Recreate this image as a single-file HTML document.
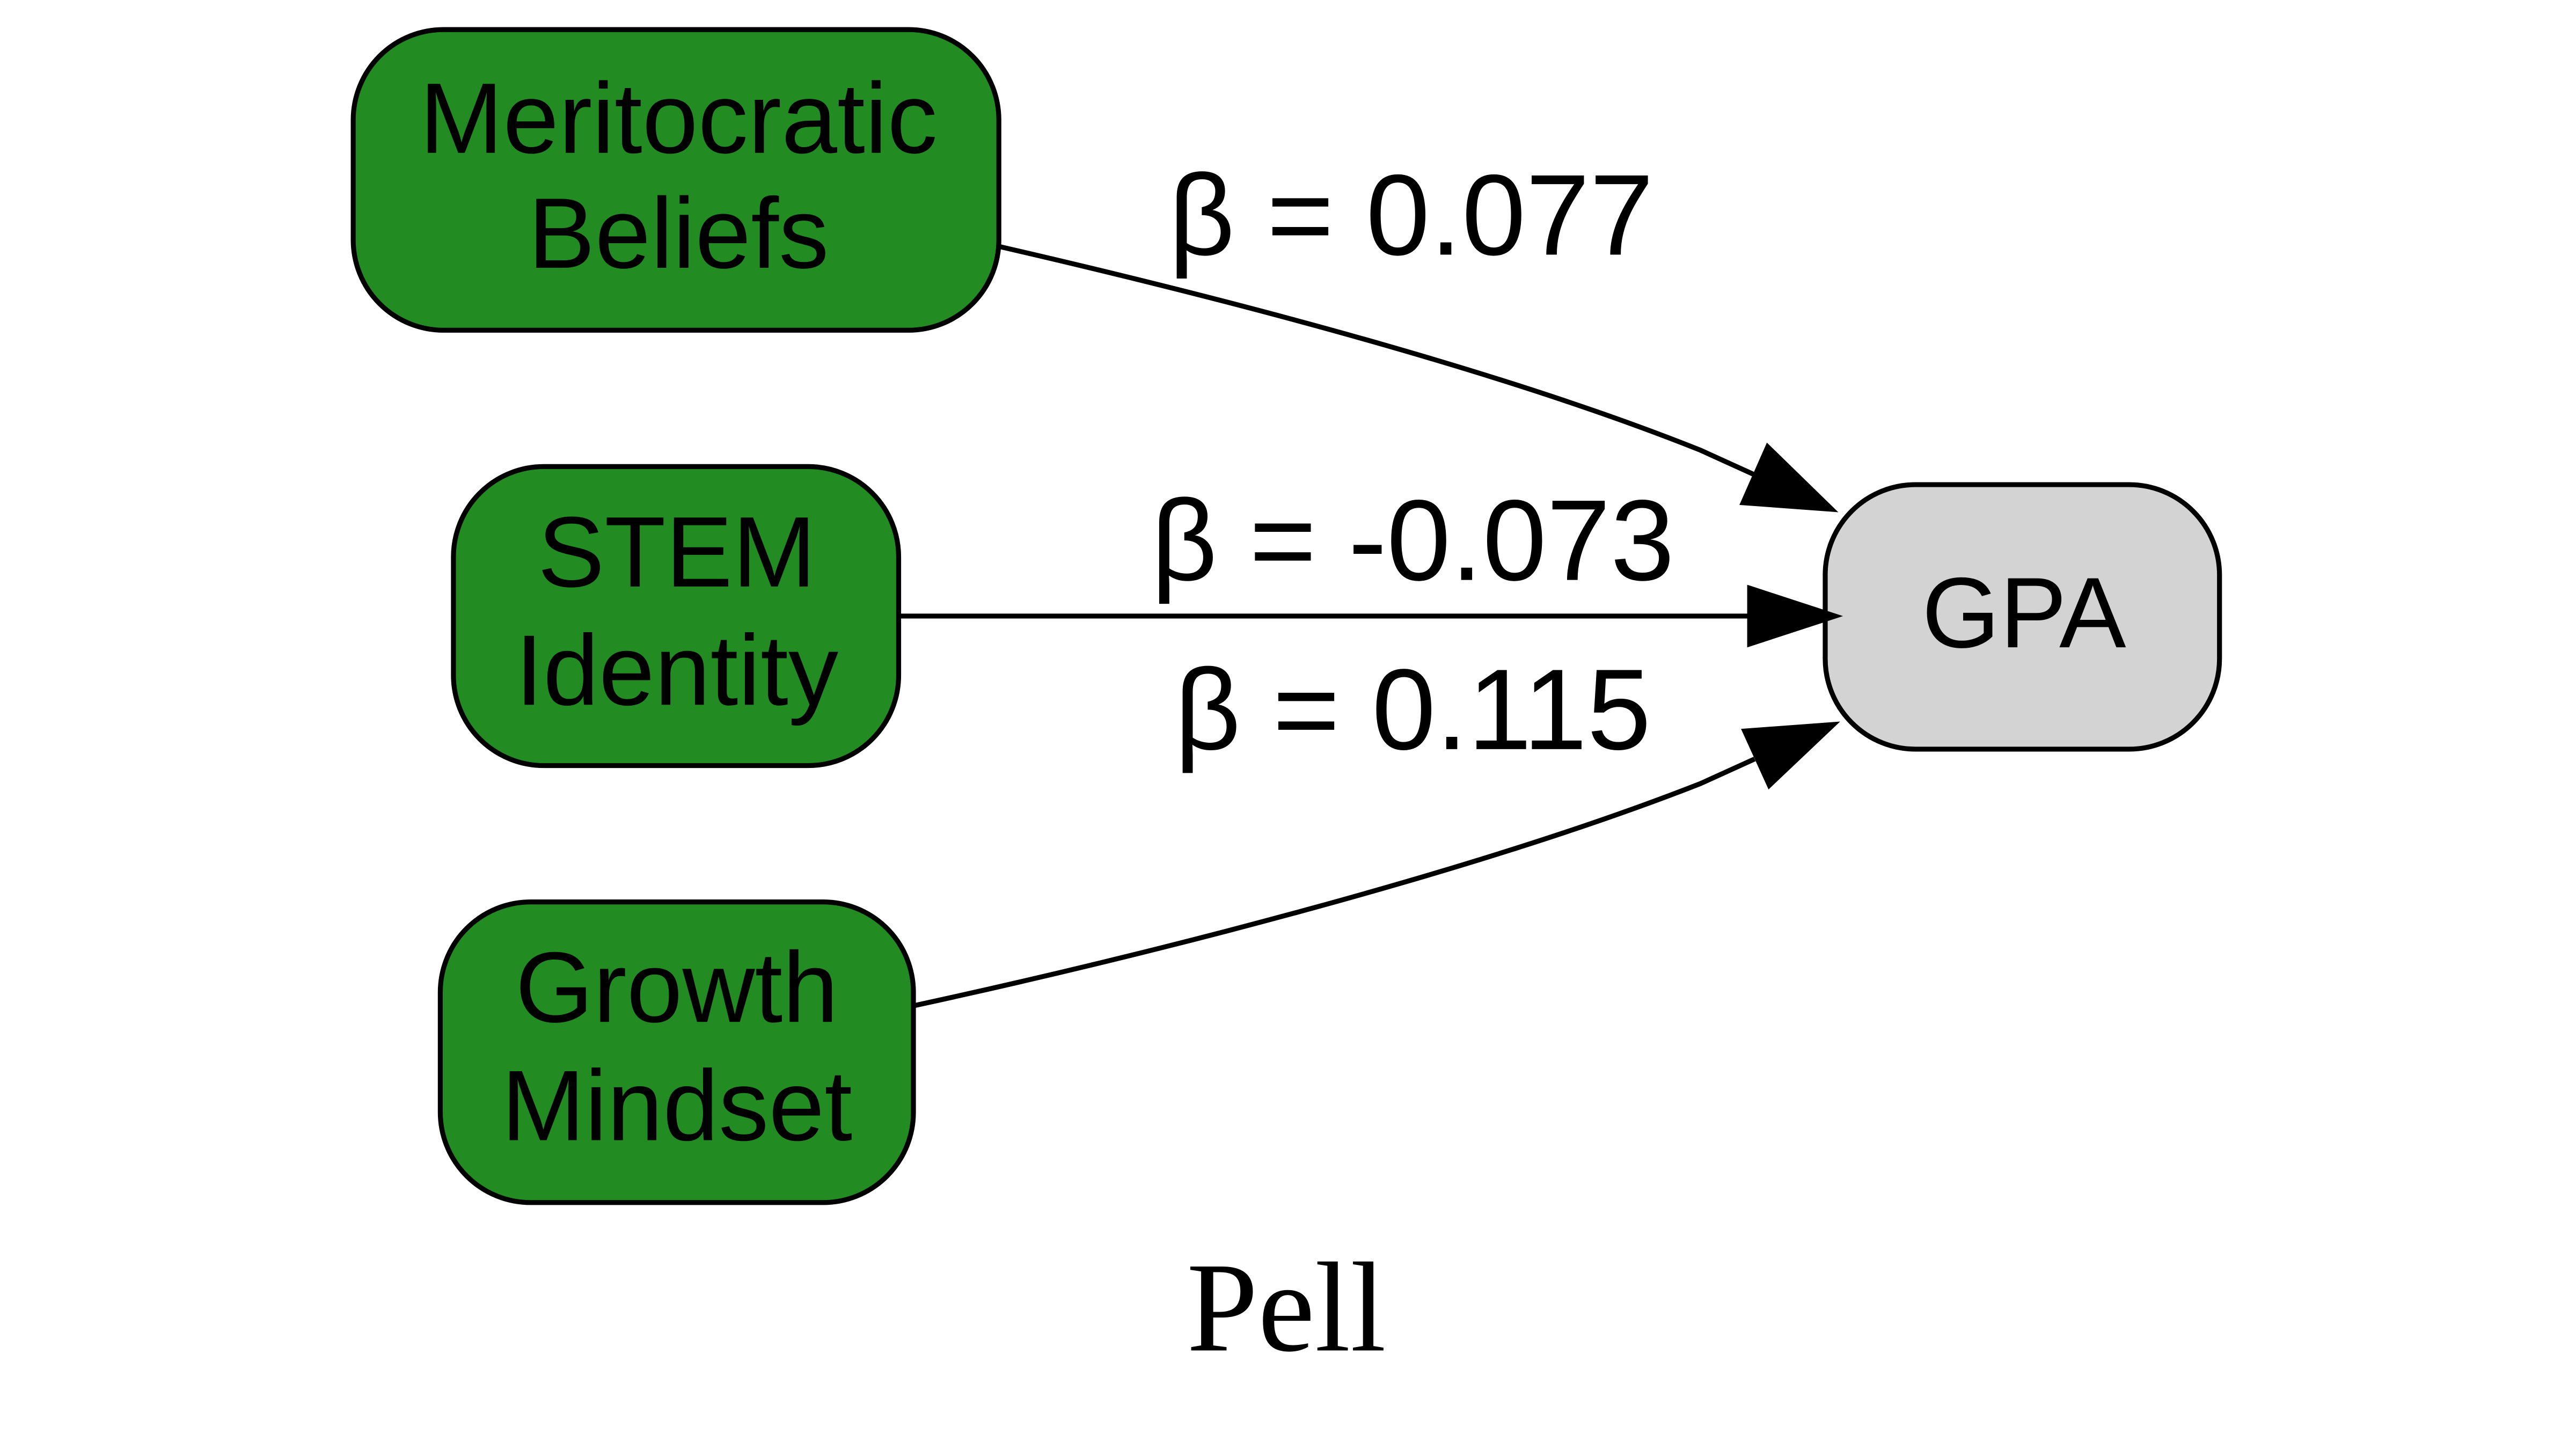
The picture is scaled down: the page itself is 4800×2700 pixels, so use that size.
<!DOCTYPE html>
<html><head><meta charset="utf-8"><style>html,body{margin:0;padding:0;background:#fff}svg{display:block}</style></head>
<body>
<svg width="4800" height="2700" viewBox="0 0 1568 882" preserveAspectRatio="none" xmlns="http://www.w3.org/2000/svg">
<rect width="1568" height="882" fill="#fff"/>
<g stroke="#000" stroke-width="3">
<rect x="215" y="18" width="393" height="183" rx="55" fill="#228b22"/>
<rect x="276" y="284" width="271" height="182" rx="55" fill="#228b22"/>
<rect x="268" y="549" width="288" height="183" rx="55" fill="#228b22"/>
<rect x="1111" y="295" width="240" height="161" rx="55" fill="#d3d3d3"/>
<path d="M608,150 C760,185 920,228 1035,274 L1068,289" fill="none"/>
<polygon points="1115,310 1061,306 1076,272" fill="#000"/>
<path d="M548,375 L1065,375" fill="none"/>
<polygon points="1065,358 1117,375 1065,392" fill="#000"/>
<path d="M557,612 C700,581 900,530 1035,477 L1068,462" fill="none"/>
<polygon points="1116,441 1077,478 1062,445" fill="#000"/>
</g>
<g font-family="Liberation Sans, Helvetica, sans-serif" font-size="61" text-anchor="middle" fill="#000">
<text x="413" y="93">Meritocratic</text>
<text x="413" y="163">Beliefs</text>
<text x="412" y="357">STEM</text>
<text x="412" y="429">Identity</text>
<text x="412" y="622">Growth</text>
<text x="412" y="694">Mindset</text>
<text x="1232" y="394">GPA</text>
</g>
<g font-family="Liberation Sans, Helvetica, sans-serif" font-size="70" text-anchor="middle" fill="#000">
<text x="859" y="155">β = 0.077</text>
<text x="860" y="353">β = -0.073</text>
<text x="860" y="456">β = 0.115</text>
</g>
<text x="783" y="822" font-family="Liberation Serif, Times, serif" font-size="78" text-anchor="middle" fill="#000">Pell</text>
</svg>
</body></html>
